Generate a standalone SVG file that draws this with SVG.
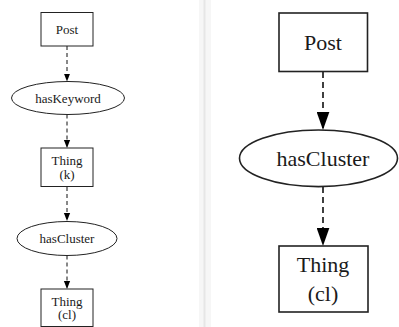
<svg xmlns="http://www.w3.org/2000/svg" width="399" height="327" viewBox="0 0 399 327">
  <style>
    .node { fill: #ffffff; stroke: #222222; stroke-width: 1; }
    .nodeL { fill: #ffffff; stroke: #222222; stroke-width: 1.6; }
    .t { font-family: "Liberation Serif", "Times New Roman", serif; fill: #1a1a1a; text-anchor: middle; }
    .ts { font-size: 13px; }
    .tl { font-size: 22px; }
    .e { fill: none; stroke: #111111; stroke-width: 1; stroke-dasharray: 4 3; }
    .eL { fill: none; stroke: #111111; stroke-width: 1.6; stroke-dasharray: 6 4; }
  </style>
  <defs>
    <marker id="arrS" markerUnits="userSpaceOnUse" markerWidth="8" markerHeight="10" refX="9" refY="3.5" viewBox="0 0 9 7" orient="auto">
      <path d="M0,0 L9,3.5 L0,7 Z" fill="#000"/>
    </marker>
    <marker id="arrL" markerUnits="userSpaceOnUse" markerWidth="18" markerHeight="13" refX="17" refY="6" viewBox="0 0 17 12" orient="auto">
      <path d="M0,0 L17,6 L0,12 Z" fill="#000"/>
    </marker>
  </defs>
  <rect x="0" y="0" width="399" height="327" fill="#ffffff"/>
  <g id="divider">
    <rect x="199" y="0" width="12" height="327" fill="#f6f6f6"/>
    <line x1="204.5" y1="0" x2="204.5" y2="327" stroke="#e6e6e6" stroke-width="2"/>
  </g>
  <g id="connectors">
    <line class="e" x1="67" y1="46" x2="67" y2="81.5" marker-end="url(#arrS)"/>
    <line class="e" x1="67" y1="114.5" x2="67" y2="148" marker-end="url(#arrS)"/>
    <line class="e" x1="67" y1="187" x2="67" y2="221" marker-end="url(#arrS)"/>
    <line class="e" x1="67" y1="255.5" x2="67" y2="289" marker-end="url(#arrS)"/>
    <line class="eL" x1="323" y1="72" x2="323" y2="130" marker-end="url(#arrL)"/>
    <line class="eL" x1="323" y1="187" x2="323" y2="246" marker-end="url(#arrL)"/>
  </g>
  <g id="left-post">
    <rect class="node" x="41" y="12.5" width="52" height="33.5"/>
    <text class="t ts" x="67" y="33.5">Post</text>
  </g>
  <g id="left-hasKeyword">
    <ellipse class="node" cx="68" cy="98" rx="56.5" ry="16.5"/>
    <text class="t ts" x="68" y="102.5">hasKeyword</text>
  </g>
  <g id="left-thing-k">
    <rect class="node" x="41" y="148" width="52" height="38.5"/>
    <text class="t ts" x="67" y="165">Thing</text>
    <text class="t ts" x="67" y="179">(k)</text>
  </g>
  <g id="left-hasCluster">
    <ellipse class="node" cx="67" cy="238.5" rx="50" ry="17"/>
    <text class="t ts" x="67" y="243">hasCluster</text>
  </g>
  <g id="left-thing-cl">
    <rect class="node" x="41" y="289" width="52" height="37.5"/>
    <text class="t ts" x="67" y="305.5">Thing</text>
    <text class="t ts" x="67" y="319">(cl)</text>
  </g>
  <g id="right-post">
    <rect class="nodeL" x="279" y="13" width="88.5" height="58.5"/>
    <text class="t tl" x="323" y="49.5">Post</text>
  </g>
  <g id="right-hasCluster">
    <ellipse class="nodeL" cx="318.5" cy="158.3" rx="79" ry="28.3"/>
    <text class="t tl" x="323" y="166">hasCluster</text>
  </g>
  <g id="right-thing-cl">
    <rect class="nodeL" x="279" y="246" width="89" height="66"/>
    <text class="t tl" x="323" y="272">Thing</text>
    <text class="t tl" x="323" y="301">(cl)</text>
  </g>
</svg>
